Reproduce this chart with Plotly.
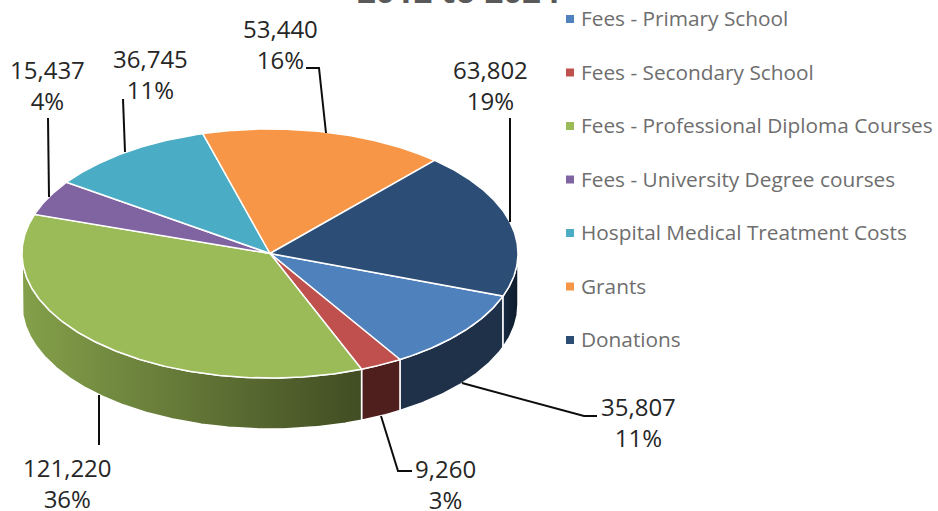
import numpy as np
import plotly.graph_objects as go

# --- data ---
categories = ["Fees - Primary School", "Fees - Secondary School", "Fees - Professional Diploma Courses",
              "Fees - University Degree courses", "Hospital Medical Treatment Costs", "Grants", "Donations"]
values = [35807, 9260, 121220, 15437, 36745, 53440, 63802]
percent_labels = ["11%", "3%", "36%", "4%", "11%", "16%", "19%"]
colors = ["#4f81bd", "#c0504d", "#9bbb59", "#8064a2", "#4bacc6", "#f79646", "#2c4d75"]
wall_left = ["#1f3049", "#4f1f1e", "#84a04a", "#8064a2", "#4bacc6", "#f79646", "#162a40"]
wall_right = ["#1f3049", "#4f1f1e", "#414d23", "#8064a2", "#4bacc6", "#f79646", "#0e1b2a"]
title_text = "2012 to 2024"

# --- layout constants (page pixels) ---
W, H = 938, 511
CX, CY, RX, RY, DEPTH = 270, 253.5, 248, 124.5, 51
FIRST_ANGLE = 110
label_pos = [(638, 422), (445, 483.5), (67, 483), (47, 84.5), (150, 74), (280, 43.5), (490, 84.5)]
leaders = [
    [(462, 383), (584, 416), (597, 416)],
    [(381, 416), (398, 471), (412, 471)],
    [(99, 395), (99, 445)],
    [(48, 118), (49, 197)],
    [(123, 99), (125, 152)],
    [(306, 68), (319, 68), (326, 133)],
    [(510, 118), (510, 222)],
]
LEGEND_X = 570
LEGEND_Y0, LEGEND_STEP = 19, 53.5


def rim(a0, a1, drop=0.0):
    t = np.radians(np.linspace(a0, a1, max(int(abs(a1 - a0) * 2), 2)))
    return CX + RX * np.sin(t), CY - RY * np.cos(t) + drop


fig = go.Figure()
fractions = np.array(values) / sum(values)
edges = FIRST_ANGLE + np.concatenate([[0], np.cumsum(fractions) * 360])

# side walls (front half only)
for i, name in enumerate(categories):
    for turn in (0, 360):
        a0, a1 = edges[i] - turn, edges[i + 1] - turn
        lo, hi = max(a0, 90), min(a1, 270)
        if lo >= hi:
            continue
        xt, yt = rim(lo, hi)
        xb, yb = rim(hi, lo, DEPTH)
        fig.add_trace(go.Scatter(
            x=np.concatenate([xt, xb, xt[:1]]), y=np.concatenate([yt, yb, yt[:1]]),
            mode="lines", fill="toself", name=name, showlegend=False, hoverinfo="skip",
            line=dict(color="white", width=1.5),
            fillgradient=dict(type="horizontal", colorscale=[[0, wall_left[i]], [1, wall_right[i]]]),
        ))

# top faces
for i, name in enumerate(categories):
    xr, yr = rim(edges[i], edges[i + 1])
    fig.add_trace(go.Scatter(
        x=np.concatenate([[CX], xr, [CX]]), y=np.concatenate([[CY], yr, [CY]]),
        mode="lines", fill="toself", fillcolor=colors[i], name=name, showlegend=False,
        line=dict(color="white", width=1.5),
        hovertemplate=f"{name}<br>{values[i]:,} ({percent_labels[i]})<extra></extra>",
    ))

# leader lines
for pts in leaders:
    fig.add_trace(go.Scatter(x=[p[0] for p in pts], y=[p[1] for p in pts], mode="lines",
                             line=dict(color="#0d0d0d", width=2), showlegend=False, hoverinfo="skip"))

# legend swatches
fig.add_trace(go.Scatter(
    x=[LEGEND_X] * len(categories), y=[LEGEND_Y0 + LEGEND_STEP * i for i in range(len(categories))],
    mode="markers", marker=dict(symbol="square", size=8, color=colors, line=dict(width=0)),
    showlegend=False, hoverinfo="skip"))

annotations = []
for i, name in enumerate(categories):
    annotations.append(dict(x=LEGEND_X + 8.5, y=LEGEND_Y0 - 1 + LEGEND_STEP * i, text=name, xref="x", yref="y",
                            showarrow=False, xanchor="left", yanchor="middle",
                            font=dict(family="Open Sans", size=20.8, color="#6e6e6e")))
    annotations.append(dict(x=label_pos[i][0], y=label_pos[i][1], text=f"{values[i]:,}<br>{percent_labels[i]}",
                            xref="x", yref="y", showarrow=False, xanchor="center", yanchor="middle",
                            font=dict(family="Open Sans", size=24, color="#262626")))
annotations.append(dict(x=458, y=15, text=title_text, xref="x", yref="y", showarrow=False,
                        xanchor="center", yanchor="bottom",
                        font=dict(family="Open Sans", size=33, color="#595959", weight="bold")))

fig.update_layout(
    width=W, height=H, margin=dict(l=0, r=0, t=0, b=0),
    paper_bgcolor="white", plot_bgcolor="white", showlegend=False,
    xaxis=dict(range=[0, W], visible=False, fixedrange=True),
    yaxis=dict(range=[H, 0], visible=False, fixedrange=True),
    annotations=annotations,
)
fig.write_html("out.html", config=dict(displayModeBar=False),
               post_script="document.body.style.margin='0';document.body.style.overflow='hidden';")
